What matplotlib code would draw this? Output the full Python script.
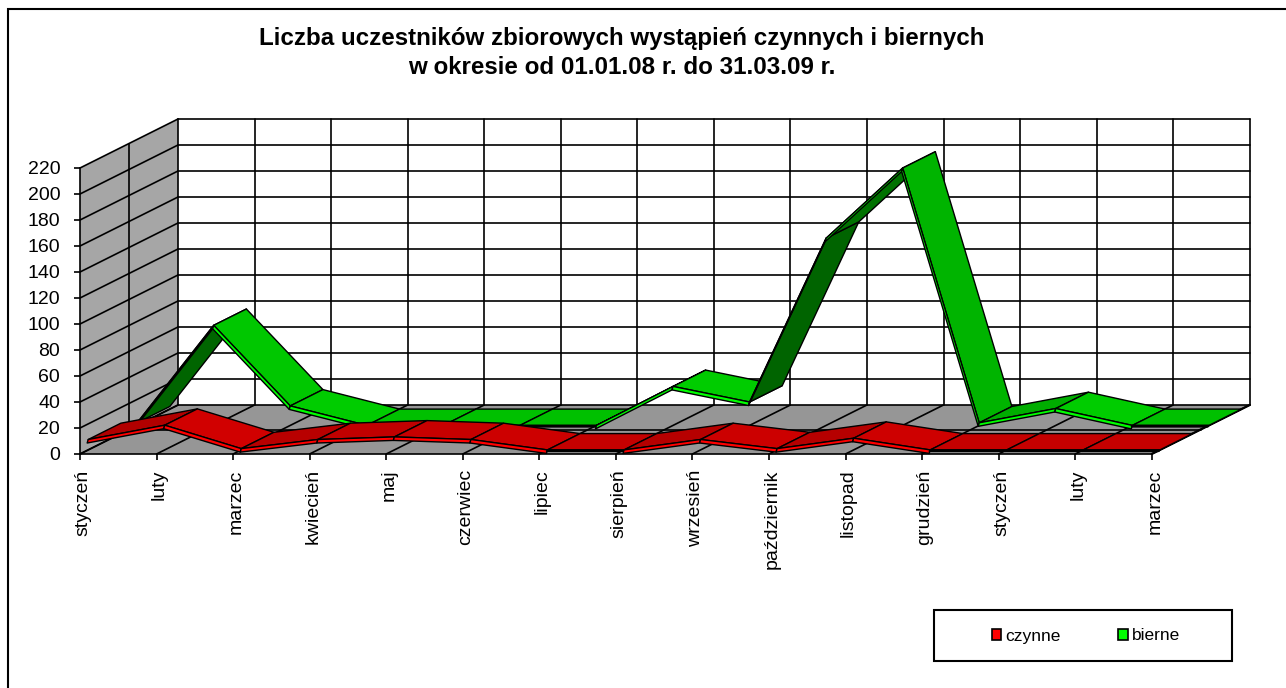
import numpy as np
import matplotlib
matplotlib.use('Agg')
import matplotlib.pyplot as plt
from matplotlib.patches import Polygon, Patch, Rectangle
from matplotlib.transforms import ScaledTranslation

plt.rcParams['font.family'] = ['Liberation Sans', 'DejaVu Sans']

months = ['styczeń', 'luty', 'marzec', 'kwiecień', 'maj', 'czerwiec', 'lipiec', 'sierpień',
          'wrzesień', 'październik', 'listopad', 'grudzień', 'styczeń', 'luty', 'marzec']
czynne = [8, 19, 1, 8, 10, 8, 0, 0, 8, 1, 9, 0, 0, 0, 0]
bierne = [2, 77, 15, 0, 0, 0, 0, 30, 18, 144, 198, 2, 13, 0, 0]
yticks = list(range(0, 221, 20))

W, H = 1286, 688
X0, X1, Y0, Y1 = 80, 1151.7, 454, 168   # front plane in pixels
PX_X = (X1 - X0) / 14
PX_Y = (Y0 - Y1) / 220
DX = 98 / PX_X    # full depth, in data units
DY = 49 / PX_Y


def proj(i, v, d):
    # oblique projection, depth d goes from 0 (front) to 1 (back)
    return (i + d * DX, v + d * DY)


def shade(slope, light):
    s = np.interp(slope, [-3.3, -0.5, -0.2, 0, 0.2, 0.7, 1.3], [0.88, 1.0, 1.0, 0.94, 0.84, 0.6, 0.49])
    return tuple(c * s for c in light)


fig = plt.figure(figsize=(W / 100, H / 100), dpi=100)
# outer frame runs off the picture on the right and at the bottom
fig.add_artist(Rectangle((8 / W, -0.1), 1.1, 1 - 9 / H + 0.1, transform=fig.transFigure,
                         fc='white', ec='black', lw=1.5, zorder=-1))

ax = fig.add_axes([X0 / W, 1 - Y0 / H, (X1 - X0) / W, (Y0 - Y1) / H])
ax.set_xlim(0, 14)
ax.set_ylim(0, 220)
ax.patch.set_visible(False)
for s in ['top', 'right']:
    ax.spines[s].set_visible(False)
for s in ['left', 'bottom']:
    ax.spines[s].set_linewidth(1.2)
    ax.spines[s].set_zorder(1)

# walls and floor
wall = [proj(0, 0, 0), proj(0, 220, 0), proj(0, 220, 1), proj(0, 0, 1)]
floor = [proj(0, 0, 0), proj(14, 0, 0), proj(14, 0, 1), proj(0, 0, 1)]
ax.add_patch(Polygon(wall, fc='#a6a6a6', ec='none', clip_on=False, zorder=0))
ax.add_patch(Polygon(floor, fc='#969696', ec='none', clip_on=False, zorder=0))


def grid(p, q, lw=1.2):
    ax.plot([p[0], q[0]], [p[1], q[1]], color='black', lw=lw, clip_on=False, zorder=0.5,
            solid_capstyle='round')


for v in yticks:
    grid(proj(0, v, 0), proj(0, v, 1))
    grid(proj(0, v, 1), proj(14, v, 1))
for i in range(15):
    grid(proj(i, 0, 0), proj(i, 0, 1))
    grid(proj(i, 0, 1), proj(i, 220, 1))
grid(proj(0, 0, 0.5), proj(0, 220, 0.5))
grid(proj(0, 0, 0.5), proj(14, 0, 0.5))
grid(proj(14, 0, 0), proj(14, 0, 1), lw=1.6)


def ribbon(values, d_front, d_back, light, z):
    side = 1 / PX_X
    face = tuple(c / max(light) for c in light)
    for i in range(len(values) - 1):
        v0, v1 = values[i], values[i + 1]
        slope = (v1 - v0) * PX_Y / PX_X
        top = [proj(i, v0, d_front), proj(i + 1, v1, d_front), proj(i + 1, v1, d_back), proj(i, v0, d_back)]
        ax.add_patch(Polygon(top, fc=shade(slope, light), ec='black', lw=1.0, clip_on=False,
                             zorder=z + i * 0.01, joinstyle='round'))
        strip = (1.5 if v0 == v1 else 3.5) / PX_Y
        a = proj(i, v0, d_front)
        b = proj(i + 1, v1, d_front)
        thin = [a, b, (b[0] - side, b[1] - strip), (a[0] - side, a[1] - strip)]
        ax.add_patch(Polygon(thin, fc='black' if v0 == v1 else face, ec='black', lw=1.0, clip_on=False,
                             zorder=z + i * 0.01 + 0.005, joinstyle='round'))


ribbon(bierne, 7 / 12, 11 / 12, (0, 0.8, 0), 2)
ribbon(czynne, 1 / 12, 5 / 12, (0.82, 0, 0), 3)

ax.set_xticks(range(15))
ax.set_xticklabels(months, rotation=90, ha='center', va='top', fontsize=14)
ax.set_yticks(yticks)
ax.tick_params(axis='x', length=4, width=1.2, pad=7)
ax.tick_params(axis='y', length=4.3, width=1.2, pad=10, labelsize=14)
# labels sit a little right of their ticks
shift = ScaledTranslation(3 / 100, 0, fig.dpi_scale_trans)
for lab in ax.get_xticklabels():
    lab.set_transform(lab.get_transform() + shift)

fig.text(622 / W, 1 - 39 / H, 'Liczba uczestników zbiorowych wystąpień czynnych i biernych',
         ha='center', va='center', fontsize=17.4, fontweight='bold')
fig.text(622 / W, 1 - 67.5 / H, 'w okresie od 01.01.08 r. do 31.03.09 r.',
         ha='center', va='center', fontsize=17.4, fontweight='bold')

fig.add_artist(Rectangle((934 / W, 1 - 661 / H), 298 / W, 51 / H, transform=fig.transFigure,
                         fc='white', ec='black', lw=1.5, zorder=5))
leg = fig.legend(handles=[Patch(fc='#ff0000', ec='black', lw=1.2, label='czynne'),
                          Patch(fc='#00ff00', ec='black', lw=1.2, label='bierne')],
                 loc='center', bbox_to_anchor=(1086 / W, 1 - 636 / H), ncol=2, frameon=False,
                 fontsize=12.5, handlelength=0.55, handleheight=0.55, handletextpad=0.25,
                 columnspacing=3.3)
leg.set_zorder(6)

fig.savefig('out.png', dpi=100)
